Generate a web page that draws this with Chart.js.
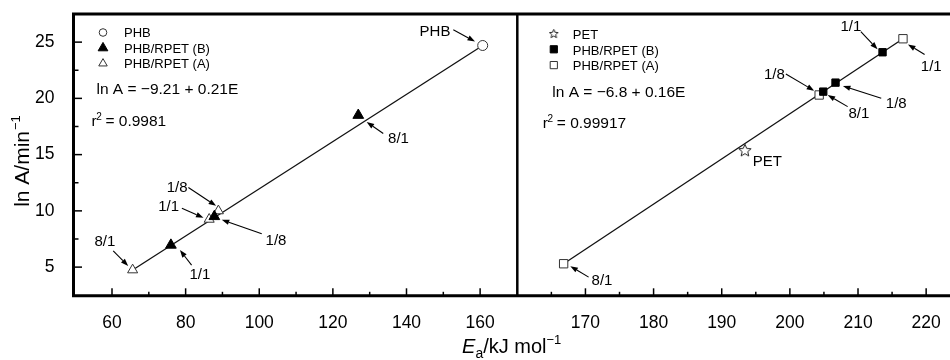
<!DOCTYPE html>
<html><head><meta charset="utf-8">
<script src="https://cdn.jsdelivr.net/npm/chart.js@4.4.1/dist/chart.umd.min.js"></script>
<style>html,body{margin:0;padding:0;background:#fff;}#wrap{width:950px;height:360px;}</style>
</head><body><div id="wrap"><canvas id="c" width="950" height="360"></canvas></div>
<script>
// ---------- data ----------
const phbE = [160.7];
const phbLnA = [24.7];
const phbB_E = [126.9, 87.8, 76.0];
const phbB_LnA = [18.5, 9.5, 6.96];
const phbB_ratio = ['8/1', '1/8', '1/1'];
const phbA_E = [88.9, 86.4, 65.6];
const phbA_LnA = [10.0, 9.25, 4.75];
const phbA_ratio = ['1/8', '1/1', '8/1'];
const fitLeftE = [65.6, 160.7];
const fitLeftLnA = [4.75, 24.7];

const petE = [193.4];
const petLnA = [15.4];
const rpetB_E = [213.6, 206.7, 204.9];
const rpetB_LnA = [24.1, 21.4, 20.6];
const rpetB_ratio = ['1/1', '1/8', '8/1'];
const rpetA_E = [216.6, 204.3, 166.8];
const rpetA_LnA = [25.3, 20.3, 5.3];
const rpetA_ratio = ['1/1', '1/8', '8/1'];
const fitRightE = [166.8, 216.6];
const fitRightLnA = [5.3, 25.3];

const yTickLabels = [5, 10, 15, 20, 25];
const leftXTickLabels = [60, 80, 100, 120, 140, 160];
const rightXTickLabels = [170, 180, 190, 200, 210, 220];

const leftEq = 'ln A = \u22129.21 + 0.21E';
const leftR2 = '0.9981';
const rightEq = 'ln A = \u22126.8 + 0.16E';
const rightR2 = '0.99917';

// ---------- helpers ----------
const FONT = "'Liberation Sans', Arial, Helvetica, sans-serif";
const pts = (xs, ys) => xs.map((x, i) => ({x: x, y: ys[i]}));
const has = (arr, v) => arr.some(t => Math.abs(t - v) < 1e-6);

function makeStar(r, lw) {
  const s = Math.ceil(r * 2 + lw * 2 + 2) + 1;
  const c = document.createElement('canvas');
  c.width = s; c.height = s;
  const g = c.getContext('2d');
  g.translate(s / 2, s / 2 + r * 0.1);
  g.beginPath();
  for (let k = 0; k < 10; k++) {
    const a = -Math.PI / 2 + k * Math.PI / 5;
    const rr = (k % 2) ? r * 0.45 : r;
    g.lineTo(rr * Math.cos(a), rr * Math.sin(a));
  }
  g.closePath();
  g.fillStyle = '#fff'; g.fill();
  g.strokeStyle = '#222'; g.lineWidth = lw; g.stroke();
  return c;
}
const starBig = makeStar(6.5, 1);
const starSmall = makeStar(4.6, 1);

const datasets = [
  {label: 'fitL', data: pts(fitLeftE, fitLeftLnA), xAxisID: 'xL', showLine: true, borderColor: '#111', borderWidth: 1.3, pointRadius: 0, order: 10},
  {label: 'fitR', data: pts(fitRightE, fitRightLnA), xAxisID: 'xR', showLine: true, borderColor: '#111', borderWidth: 1.3, pointRadius: 0, order: 10},
  {label: 'PHB', data: pts(phbE, phbLnA), xAxisID: 'xL', pointStyle: 'circle', pointRadius: 5, backgroundColor: '#fff', borderColor: '#333', borderWidth: 1, legR: 3.8},
  {label: 'PHB/RPET (B)', data: pts(phbB_E, phbB_LnA), xAxisID: 'xL', pointStyle: 'triangle', pointRadius: 6.2, backgroundColor: '#000', borderColor: '#000', borderWidth: 1, legR: 5.6, ratios: phbB_ratio},
  {label: 'PHB/RPET (A)', data: pts(phbA_E, phbA_LnA), xAxisID: 'xL', pointStyle: 'triangle', pointRadius: 5.8, backgroundColor: '#fff', borderColor: '#333', borderWidth: 1, legR: 4.9, ratios: phbA_ratio},
  {label: 'PET', data: pts(petE, petLnA), xAxisID: 'xR', pointStyle: starBig, pointRadius: 6.5, backgroundColor: '#fff', borderColor: '#222', borderWidth: 1, legImg: starSmall},
  {label: 'PHB/RPET (B)', data: pts(rpetB_E, rpetB_LnA), xAxisID: 'xR', pointStyle: 'rect', pointRadius: 5.2, backgroundColor: '#000', borderColor: '#000', borderWidth: 1, legR: 5.1, ratios: rpetB_ratio},
  {label: 'PHB/RPET (A)', data: pts(rpetA_E, rpetA_LnA), xAxisID: 'xR', pointStyle: 'rect', pointRadius: 5.9, backgroundColor: '#fff', borderColor: '#333', borderWidth: 1, legR: 5.1, ratios: rpetA_ratio}
];
datasets.forEach(d => { d.pointHoverRadius = d.pointRadius; });

// annotation styling: dataset index, point index, label offset, arrow tail->head offsets (px from the point)
const notes = [
  {ds: 2, i: 0, text: 'PHB', l: [-47.7, -14.7], a: [-29.4, -15.7, -7.7, -4]},
  {ds: 3, i: 0, l: [40.2, 23], a: [25, 18.3, 8.4, 6.7]},
  {ds: 4, i: 0, l: [-41.3, -24.2], a: [-30, -23.4, -2.3, -5]},
  {ds: 4, i: 1, l: [-40.5, -13], a: [-27.3, -11, -5.7, -1.6]},
  {ds: 3, i: 1, l: [61.7, 23], a: [47.4, 17.3, 7.4, 3.3]},
  {ds: 4, i: 2, l: [-27.7, -29], a: [-19.4, -19, -4.4, -4]},
  {ds: 3, i: 2, l: [29, 29], a: [20.7, 20, 9, 5]},
  {ds: 6, i: 0, l: [-31.7, -26.3], a: [-21.7, -20.6, -5, -3]},
  {ds: 7, i: 0, l: [28.3, 27.4], a: [21.6, 15.7, 5, 5.7]},
  {ds: 7, i: 1, l: [-44.8, -21], a: [-33.3, -21, -5, -4.3]},
  {ds: 6, i: 1, l: [60.7, 19.8], a: [45.7, 15.6, 7.4, 3.3]},
  {ds: 6, i: 2, l: [35.7, 20.8], a: [24.4, 15, 4.4, 3.3]},
  {ds: 5, i: 0, text: 'PET', l: [22.5, 11], a: null},
  {ds: 7, i: 2, l: [38.4, 16.4], a: [25, 13.4, 6.7, 2.4]}
];

function drawMarker(ctx, ds, x, y) {
  if (ds.legImg) { ctx.drawImage(ds.legImg, x - ds.legImg.width / 2, y - ds.legImg.height / 2); return; }
  const r = ds.legR;
  ctx.save();
  ctx.fillStyle = ds.backgroundColor; ctx.strokeStyle = ds.borderColor; ctx.lineWidth = ds.borderWidth;
  ctx.beginPath();
  if (ds.pointStyle === 'circle') ctx.arc(x, y, r, 0, Math.PI * 2);
  else if (ds.pointStyle === 'triangle') {
    ctx.moveTo(x, y - r);
    ctx.lineTo(x + r * Math.sin(Math.PI * 2 / 3), y - r * Math.cos(Math.PI * 2 / 3));
    ctx.lineTo(x - r * Math.sin(Math.PI * 2 / 3), y - r * Math.cos(Math.PI * 2 / 3));
    ctx.closePath();
  } else {
    const s = r * Math.SQRT1_2;
    ctx.rect(x - s, y - s, 2 * s, 2 * s);
  }
  ctx.fill(); ctx.stroke();
  ctx.restore();
}

function arrow(ctx, x1, y1, x2, y2) {
  const ang = Math.atan2(y2 - y1, x2 - x1);
  const hl = 7.5, hw = 2.7;
  const bx = x2 - hl * Math.cos(ang), by = y2 - hl * Math.sin(ang);
  ctx.beginPath(); ctx.moveTo(x1, y1); ctx.lineTo(bx, by); ctx.stroke();
  ctx.beginPath();
  ctx.moveTo(x2, y2);
  ctx.lineTo(bx + hw * Math.sin(ang), by - hw * Math.cos(ang));
  ctx.lineTo(bx - hw * Math.sin(ang), by + hw * Math.cos(ang));
  ctx.closePath(); ctx.fill();
}

function r2text(ctx, x, y, val) {
  ctx.textAlign = 'left'; ctx.textBaseline = 'alphabetic';
  ctx.font = '15.5px ' + FONT;
  ctx.fillText('r', x, y);
  let w = ctx.measureText('r').width;
  ctx.font = '10px ' + FONT;
  ctx.fillText('2', x + w - 0.5, y - 6.5);
  ctx.font = '15.5px ' + FONT;
  ctx.fillText(' = ' + val, x + w + 4.5, y);
}

const decor = {
  id: 'decor',
  afterDraw(chart) {
    const ctx = chart.ctx;
    const ca = chart.chartArea;
    const sy = chart.scales.y, sL = chart.scales.xL, sR = chart.scales.xR;
    ctx.save();
    // inner tick marks
    ctx.strokeStyle = '#000'; ctx.lineWidth = 1.5;
    sy.ticks.forEach(t => {
      const p = sy.getPixelForValue(t.value);
      if (p < ca.top + 3 || p > ca.bottom - 3) return;
      const len = has(yTickLabels, t.value) ? 8.5 : 5;
      ctx.beginPath(); ctx.moveTo(ca.left, p); ctx.lineTo(ca.left + len, p); ctx.stroke();
    });
    [sL, sR].forEach(s => {
      s.ticks.forEach(t => {
        const p = s.getPixelForValue(t.value);
        if (p < s.left + 4 || p > s.right - 4) return;
        const major = (s === sL) ? (t.value % 20 === 0) : (t.value % 10 === 0);
        const len = major ? 7.5 : 4;
        ctx.beginPath(); ctx.moveTo(p, ca.bottom); ctx.lineTo(p, ca.bottom - len); ctx.stroke();
      });
    });
    // frame
    ctx.lineWidth = 3;
    ctx.beginPath();
    ctx.moveTo(ca.right, ca.top); ctx.lineTo(ca.left, ca.top); ctx.lineTo(ca.left, ca.bottom); ctx.lineTo(ca.right, ca.bottom);
    ctx.stroke();
    ctx.lineWidth = 2.5;
    ctx.beginPath(); ctx.moveTo(sL.right, ca.top); ctx.lineTo(sL.right, ca.bottom); ctx.stroke();

    // annotations
    ctx.fillStyle = '#000'; ctx.strokeStyle = '#000'; ctx.lineWidth = 1.1;
    ctx.font = '15px ' + FONT; ctx.textAlign = 'center'; ctx.textBaseline = 'middle';
    notes.forEach(n => {
      const el = chart.getDatasetMeta(n.ds).data[n.i];
      const ds = chart.data.datasets[n.ds];
      const txt = n.text || ds.ratios[n.i];
      ctx.fillText(txt, el.x + n.l[0], el.y + n.l[1] + 1);
      if (n.a) arrow(ctx, el.x + n.a[0], el.y + n.a[1], el.x + n.a[2], el.y + n.a[3]);
    });

    // legends
    const dsets = chart.data.datasets;
    ctx.font = '13px ' + FONT; ctx.textAlign = 'left'; ctx.textBaseline = 'alphabetic';
    const legL = [2, 3, 4], legR = [5, 6, 7];
    legL.forEach((k, j) => {
      drawMarker(ctx, dsets[k], ca.left + 29.5, ca.top + 18.5 + j * 15.5);
      ctx.fillStyle = '#000';
      ctx.fillText(dsets[k].label, ca.left + 50.5, ca.top + 23.3 + j * 15.4);
    });
    legR.forEach((k, j) => {
      drawMarker(ctx, dsets[k], sR.left + 36.5, ca.top + 19.5 + j * 15.8);
      ctx.fillStyle = '#000';
      ctx.fillText(dsets[k].label, sR.left + 55.5, ca.top + 25.3 + j * 15.4);
    });

    // equations
    ctx.font = '15.5px ' + FONT;
    ctx.fillText(leftEq, ca.left + 23, 94.3);
    r2text(ctx, ca.left + 18, 126, leftR2);
    ctx.font = '15.5px ' + FONT;
    ctx.fillText(rightEq, sR.left + 35, 97.3);
    r2text(ctx, sR.left + 25.5, 128.3, rightR2);

    // y-axis title (rotated)
    ctx.save();
    ctx.translate(29, 161);
    ctx.rotate(-Math.PI / 2);
    ctx.font = '21px ' + FONT;
    const main = 'ln A/min';
    const wm = ctx.measureText(main).width;
    ctx.font = '13px ' + FONT;
    const ws = ctx.measureText('\u22121').width;
    const x0 = -(wm + ws + 1) / 2;
    ctx.font = '21px ' + FONT; ctx.textAlign = 'left';
    ctx.fillText(main, x0, 0);
    ctx.font = '13px ' + FONT;
    ctx.fillText('\u22121', x0 + wm + 1, -9);
    ctx.restore();

    // x-axis title
    ctx.textAlign = 'left'; ctx.textBaseline = 'alphabetic';
    const parts = [
      {t: 'E', f: 'italic 20px ' + FONT, dy: 0},
      {t: 'a', f: '14px ' + FONT, dy: 5},
      {t: '/kJ mol', f: '20px ' + FONT, dy: 0},
      {t: '\u22121', f: '13px ' + FONT, dy: -9}
    ];
    let tw = 0;
    parts.forEach(p => { ctx.font = p.f; p.w = ctx.measureText(p.t).width; tw += p.w; });
    let xx = 511.7 - tw / 2;
    parts.forEach(p => { ctx.font = p.f; ctx.fillText(p.t, xx, 353 + p.dy); xx += p.w; });
    ctx.restore();
  }
};

const noPad = s => { s.paddingLeft = 0; s.paddingRight = 0; s.paddingTop = 0; s.paddingBottom = 0; };
const tickFont = {family: FONT, size: 17.5};
new Chart(document.getElementById('c'), {
  type: 'scatter',
  data: {datasets: datasets},
  options: {
    responsive: false, animation: false, devicePixelRatio: 1,
    layout: {autoPadding: false, padding: {top: 14, right: 0, bottom: 0, left: 0}},
    plugins: {legend: {display: false}, tooltip: {enabled: false}},
    events: [],
    scales: {
      y: {
        type: 'linear', position: 'left', min: 2.45, max: 27.5,
        afterFit: s => { s.width = 73.5; noPad(s); },
        grid: {display: false}, border: {display: false},
        ticks: {stepSize: 2.5, includeBounds: false, autoSkip: false, padding: 11, color: '#000', font: tickFont,
          callback: v => has(yTickLabels, v) ? String(v) : ''}
      },
      xL: {
        type: 'linear', position: 'bottom', stack: 'x', stackWeight: 443.8, min: 49.54, max: 170.1,
        afterFit: s => { s.height = 64.2; noPad(s); },
        grid: {display: false}, border: {display: false},
        ticks: {stepSize: 10, includeBounds: false, autoSkip: false, maxRotation: 0, padding: 9, color: '#000', font: tickFont,
          callback: v => has(leftXTickLabels, v) ? String(v) : ''}
      },
      xR: {
        type: 'linear', position: 'bottom', stack: 'x', stackWeight: 432.7, min: 160, max: 223.5,
        afterFit: s => { s.height = 64.2; noPad(s); },
        grid: {display: false}, border: {display: false},
        ticks: {stepSize: 5, includeBounds: false, autoSkip: false, maxRotation: 0, padding: 9, color: '#000', font: tickFont,
          callback: v => has(rightXTickLabels, v) ? String(v) : ''}
      }
    }
  },
  plugins: [decor]
});
</script>
</body></html>
